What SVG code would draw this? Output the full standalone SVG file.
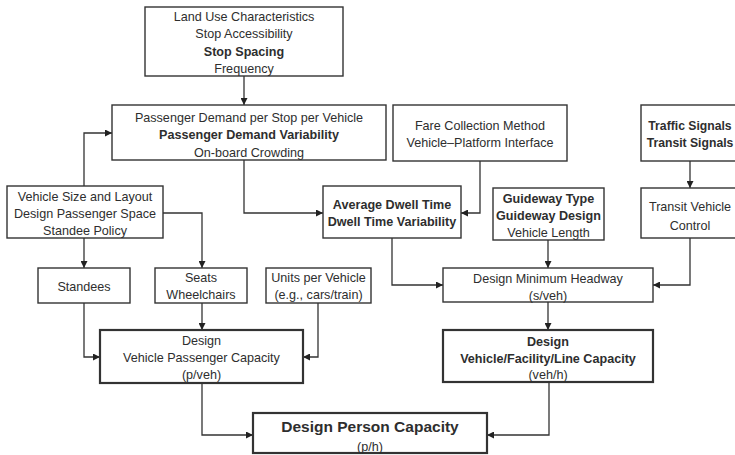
<svg xmlns="http://www.w3.org/2000/svg" width="735" height="455" viewBox="0 0 735 455">
<style>
  .box { fill: #ffffff; stroke: #333333; stroke-width: 1.4; }
  .thick { stroke-width: 2.2; }
  text { font-family: "Liberation Sans", Arial, sans-serif; font-size: 12.6px; fill: #2e2e2e; text-anchor: middle; }
  .b { font-weight: bold; }
  .bs { font-weight: bold; font-size: 12.2px; }
  .big { font-size: 15.5px; font-weight: bold; }
  .conn { fill: none; stroke: #333333; stroke-width: 1.3; marker-end: url(#arr); }
</style>
<defs>
  <marker id="arr" viewBox="0 0 8 8" refX="8" refY="4" markerWidth="7" markerHeight="7" markerUnits="userSpaceOnUse" orient="auto">
    <path d="M0,0 L8,4 L0,8 z" fill="#222222"/>
  </marker>
</defs>
<rect width="735" height="455" fill="#ffffff"/>

<g id="connectors">
  <path class="conn" d="M244,76 V105"/>
  <path class="conn" d="M84,186 V133 H112"/>
  <path class="conn" d="M244,160 V213 H323"/>
  <path class="conn" d="M480,161 V213 H461"/>
  <path class="conn" d="M690,161 V188"/>
  <path class="conn" d="M84,238 V268"/>
  <path class="conn" d="M163,213 H202 V268"/>
  <path class="conn" d="M392,238 V285 H443"/>
  <path class="conn" d="M548,240 V268"/>
  <path class="conn" d="M690,238 V285 H653"/>
  <path class="conn" d="M548,302 V330"/>
  <path class="conn" d="M84,303 V357 H100"/>
  <path class="conn" d="M202,303 V330"/>
  <path class="conn" d="M318,303 V357 H303"/>
  <path class="conn" d="M202,383 V435 H253"/>
  <path class="conn" d="M549,382 V435 H487"/>
</g>

<g id="land-use">
  <rect class="box" x="145" y="7" width="198" height="69"/>
  <text x="244" y="20.5">Land Use Characteristics</text>
  <text x="244" y="38">Stop Accessibility</text>
  <text class="b" x="244" y="55.5">Stop Spacing</text>
  <text x="244" y="73">Frequency</text>
</g>

<g id="passenger-demand">
  <rect class="box" x="112" y="105" width="274" height="55"/>
  <text x="249" y="121.5">Passenger Demand per Stop per Vehicle</text>
  <text class="b" x="249" y="139">Passenger Demand Variability</text>
  <text x="249" y="156.5">On-board Crowding</text>
</g>

<g id="fare-collection">
  <rect class="box" x="393" y="105" width="174" height="56"/>
  <text x="480" y="129.5">Fare Collection Method</text>
  <text x="480" y="147">Vehicle–Platform Interface</text>
</g>

<g id="signals">
  <rect class="box" x="641" y="105" width="98" height="56"/>
  <text class="bs" x="690" y="129.5">Traffic Signals</text>
  <text class="bs" x="690" y="147">Transit Signals</text>
</g>

<g id="vehicle-size">
  <rect class="box" x="7" y="186" width="156" height="52"/>
  <text x="85" y="200.5">Vehicle Size and Layout</text>
  <text x="85" y="217.5">Design Passenger Space</text>
  <text x="85" y="234.5">Standee Policy</text>
</g>

<g id="dwell-time">
  <rect class="box" x="323" y="186" width="138" height="52"/>
  <text class="b" x="392" y="208.5">Average Dwell Time</text>
  <text class="b" x="392" y="226">Dwell Time Variability</text>
</g>

<g id="guideway">
  <rect class="box" x="493" y="188" width="111" height="52"/>
  <text class="b" x="548.5" y="202.5">Guideway Type</text>
  <text class="b" x="548.5" y="220">Guideway Design</text>
  <text x="548.5" y="237">Vehicle Length</text>
</g>

<g id="transit-control">
  <rect class="box" x="641" y="188" width="98" height="50"/>
  <text x="690" y="211">Transit Vehicle</text>
  <text x="690" y="229.5">Control</text>
</g>

<g id="standees">
  <rect class="box" x="38" y="268" width="92" height="35"/>
  <text x="84" y="291">Standees</text>
</g>

<g id="seats">
  <rect class="box" x="155" y="268" width="92" height="35"/>
  <text x="201" y="281.5">Seats</text>
  <text x="201" y="299">Wheelchairs</text>
</g>

<g id="units">
  <rect class="box" x="266" y="268" width="105" height="35"/>
  <text x="318.5" y="281.5">Units per Vehicle</text>
  <text x="318.5" y="299">(e.g., cars/train)</text>
</g>

<g id="headway">
  <rect class="box" x="443" y="268" width="210" height="34"/>
  <text x="548" y="282.5">Design Minimum Headway</text>
  <text x="548" y="299.5">(s/veh)</text>
</g>

<g id="vehicle-passenger-capacity">
  <rect class="box thick" x="100" y="330" width="203" height="53"/>
  <text x="201.5" y="344.5">Design</text>
  <text x="201.5" y="361.5">Vehicle Passenger Capacity</text>
  <text x="201.5" y="379">(p/veh)</text>
</g>

<g id="line-capacity">
  <rect class="box thick" x="443" y="330" width="210" height="52"/>
  <text class="b" x="548" y="345.5">Design</text>
  <text class="b" x="548" y="362.5">Vehicle/Facility/Line Capacity</text>
  <text x="548" y="379">(veh/h)</text>
</g>

<g id="person-capacity">
  <rect class="box thick" x="253" y="413" width="234" height="40"/>
  <text class="big" x="370" y="432">Design Person Capacity</text>
  <text x="370" y="451">(p/h)</text>
</g>
</svg>
